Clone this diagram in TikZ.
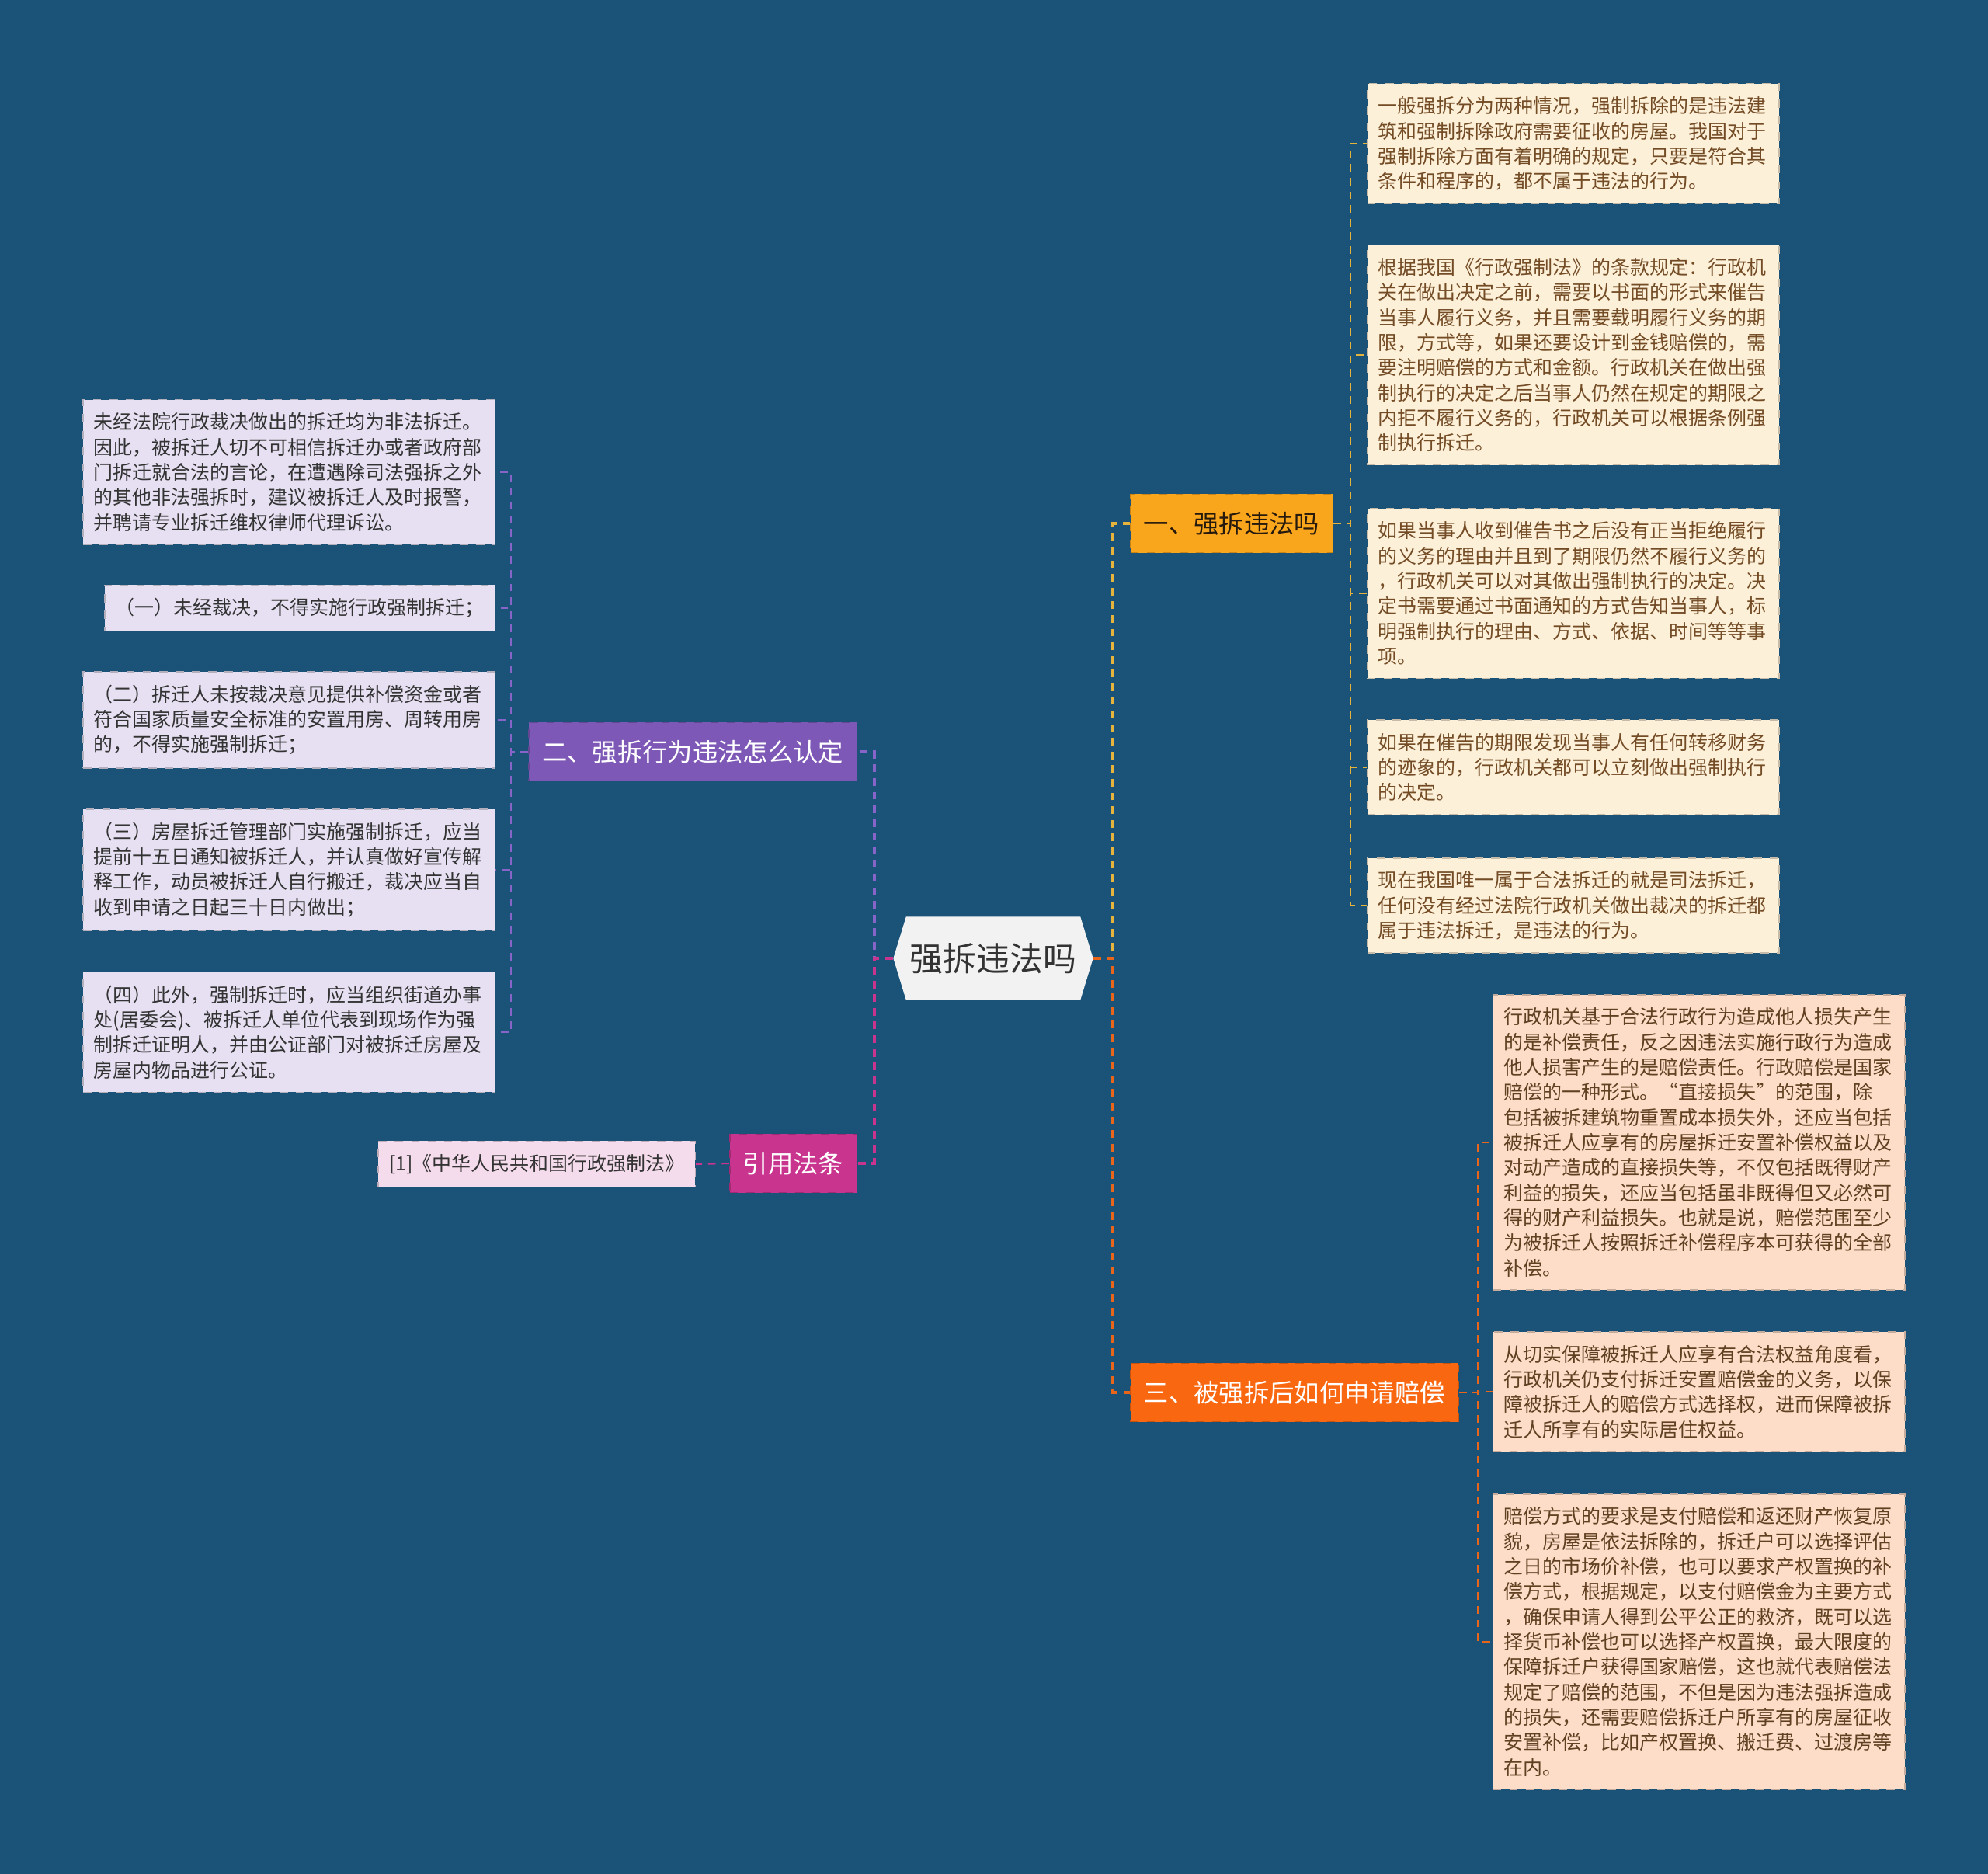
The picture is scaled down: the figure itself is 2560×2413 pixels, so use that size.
\documentclass[tikz,border=0pt]{standalone}
\usepackage{fontspec}
\setmainfont{Noto Sans CJK SC}
\usepackage{tikz}
\usetikzlibrary{positioning,shapes.symbols}
\definecolor{cBg}{RGB}{27,83,120}
\definecolor{cRoot}{RGB}{242,242,242}
\definecolor{cOne}{RGB}{250,166,28}
\definecolor{cTwo}{RGB}{126,88,182}
\definecolor{cCite}{RGB}{201,52,143}
\definecolor{cThree}{RGB}{249,103,16}
\definecolor{cLeafOne}{RGB}{253,240,216}
\definecolor{cLeafTwo}{RGB}{230,224,242}
\definecolor{cLeafCite}{RGB}{245,220,236}
\definecolor{cLeafThree}{RGB}{253,220,200}
\definecolor{cLineOne}{RGB}{230,180,60}
\definecolor{cLineTwo}{RGB}{135,100,200}
\definecolor{cLineThree}{RGB}{232,101,26}

\begin{document}
\begin{tikzpicture}[x=0.01cm,y=-0.01cm,
   root/.style={signal,signal to=east and west,signal pointer angle=146,fill=cRoot,text=black!80,
     minimum height=1.07cm,inner xsep=0.05cm,font=\fontsize{12.2pt}{14pt}\selectfont},
   topic/.style={rectangle,draw=#1!80!black,dashed,fill=#1,minimum height=0.75cm,inner xsep=0.17cm,
     font=\fontsize{9.2pt}{11pt}\selectfont},
   leaf/.style={rectangle,draw=#1!78!black,dashed,fill=#1,text width=5.02cm,align=left,
     inner xsep=0.14cm,inner ysep=0.17cm,font=\fontsize{7.1pt}{9.19pt}\selectfont},
   link/.style={draw=#1,dash pattern=on 2.8pt off 2.2pt,line width=0.6pt},
   trunk/.style={draw=#1,dash pattern=on 2.8pt off 2.2pt,line width=1.2pt}]
  \fill[cBg] (0,0) rectangle (2560,2413);
  \useasboundingbox (0,0) rectangle (2560,2413);
  % centre and main topics
  \node[root] (root) at (1279,1234) {强拆违法吗};
  \node[topic=cOne,anchor=west,text=black!80!brown] (one) at (1455,674) {一、强拆违法吗};
  \node[topic=cTwo,anchor=east,text=white] (two) at (1104,968) {二、强拆行为违法怎么认定};
  \node[topic=cCite,anchor=east,text=white] (cite) at (1104,1498) {引用法条};
  \node[topic=cThree,anchor=west,text=white] (three) at (1455,1793) {三、被强拆后如何申请赔偿};
  % leaves of one
  \node[leaf=cLeafOne,anchor=west,text=brown!60!black] (l1a) at (1760,185)
     {一般强拆分为两种情况，强制拆除的是违法建\\筑和强制拆除政府需要征收的房屋。我国对于\\强制拆除方面有着明确的规定，只要是符合其\\条件和程序的，都不属于违法的行为。};
  \node[leaf=cLeafOne,anchor=west,text=brown!60!black] (l1b) at (1760,457)
     {根据我国《行政强制法》的条款规定：行政机\\关在做出决定之前，需要以书面的形式来催告\\当事人履行义务，并且需要载明履行义务的期\\限，方式等，如果还要设计到金钱赔偿的，需\\要注明赔偿的方式和金额。行政机关在做出强\\制执行的决定之后当事人仍然在规定的期限之\\内拒不履行义务的，行政机关可以根据条例强\\制执行拆迁。};
  \node[leaf=cLeafOne,anchor=west,text=brown!60!black] (l1c) at (1760,764)
     {如果当事人收到催告书之后没有正当拒绝履行\\的义务的理由并且到了期限仍然不履行义务的\\，行政机关可以对其做出强制执行的决定。决\\定书需要通过书面通知的方式告知当事人，标\\明强制执行的理由、方式、依据、时间等等事\\项。};
  \node[leaf=cLeafOne,anchor=west,text=brown!60!black] (l1d) at (1760,988)
     {如果在催告的期限发现当事人有任何转移财务\\的迹象的，行政机关都可以立刻做出强制执行\\的决定。};
  \node[leaf=cLeafOne,anchor=west,text=brown!60!black] (l1e) at (1760,1166)
     {现在我国唯一属于合法拆迁的就是司法拆迁，\\任何没有经过法院行政机关做出裁决的拆迁都\\属于违法拆迁，是违法的行为。};
  % leaves of two
  \node[leaf=cLeafTwo,anchor=east,text=black!80] (l2a) at (638,608)
     {未经法院行政裁决做出的拆迁均为非法拆迁。\\因此，被拆迁人切不可相信拆迁办或者政府部\\门拆迁就合法的言论，在遭遇除司法强拆之外\\的其他非法强拆时，建议被拆迁人及时报警，\\并聘请专业拆迁维权律师代理诉讼。};
  \node[leaf=cLeafTwo,anchor=east,text=black!80,text width=] (l2b) at (638,783)
     {（一）未经裁决，不得实施行政强制拆迁；};
  \node[leaf=cLeafTwo,anchor=east,text=black!80] (l2c) at (638,927)
     {（二）拆迁人未按裁决意见提供补偿资金或者\\符合国家质量安全标准的安置用房、周转用房\\的，不得实施强制拆迁；};
  \node[leaf=cLeafTwo,anchor=east,text=black!80] (l2d) at (638,1120)
     {（三）房屋拆迁管理部门实施强制拆迁，应当\\提前十五日通知被拆迁人，并认真做好宣传解\\释工作，动员被拆迁人自行搬迁，裁决应当自\\收到申请之日起三十日内做出；};
  \node[leaf=cLeafTwo,anchor=east,text=black!80] (l2e) at (638,1329)
     {（四）此外，强制拆迁时，应当组织街道办事\\处(居委会)、被拆迁人单位代表到现场作为强\\制拆迁证明人，并由公证部门对被拆迁房屋及\\房屋内物品进行公证。};
  % leaf of cite
  \node[leaf=cLeafCite,anchor=east,text=black!80,text width=] (law) at (896,1499)
     {[1]《中华人民共和国行政强制法》};
  % leaves of three
  \node[leaf=cLeafThree,anchor=west,text=brown!50!black] (l3a) at (1922,1471)
     {行政机关基于合法行政行为造成他人损失产生\\的是补偿责任，反之因违法实施行政行为造成\\他人损害产生的是赔偿责任。行政赔偿是国家\\赔偿的一种形式。“直接损失”的范围，除\\包括被拆建筑物重置成本损失外，还应当包括\\被拆迁人应享有的房屋拆迁安置补偿权益以及\\对动产造成的直接损失等，不仅包括既得财产\\利益的损失，还应当包括虽非既得但又必然可\\得的财产利益损失。也就是说，赔偿范围至少\\为被拆迁人按照拆迁补偿程序本可获得的全部\\补偿。};
  \node[leaf=cLeafThree,anchor=west,text=brown!50!black] (l3b) at (1922,1792)
     {从切实保障被拆迁人应享有合法权益角度看，\\行政机关仍支付拆迁安置赔偿金的义务，以保\\障被拆迁人的赔偿方式选择权，进而保障被拆\\迁人所享有的实际居住权益。};
  \node[leaf=cLeafThree,anchor=west,text=brown!50!black] (l3c) at (1922,2114)
     {赔偿方式的要求是支付赔偿和返还财产恢复原\\貌，房屋是依法拆除的，拆迁户可以选择评估\\之日的市场价补偿，也可以要求产权置换的补\\偿方式，根据规定，以支付赔偿金为主要方式\\，确保申请人得到公平公正的救济，既可以选\\择货币补偿也可以选择产权置换，最大限度的\\保障拆迁户获得国家赔偿，这也就代表赔偿法\\规定了赔偿的范围，不但是因为违法强拆造成\\的损失，还需要赔偿拆迁户所享有的房屋征收\\安置补偿，比如产权置换、搬迁费、过渡房等\\在内。};
  % connectors
  \foreach \n in {l1a,l1b,l1c,l1d,l1e}
    \draw[link=cLineOne] (one.east) -- ++(22,0) |- (\n.west);
  \foreach \n in {l2a,l2b,l2c,l2d,l2e}
    \draw[link=cLineTwo] (two.west) -- ++(-22,0) |- (\n.east);
  \foreach \n in {l3a,l3b,l3c}
    \draw[link=cLineThree] (three.east) -- ++(24,0) |- (\n.west);
  \draw[link=cCite] (cite.west) -- (law.east);
  \draw[trunk=cLineOne] (root.east) -- ++(25,0) |- (one.west);
  \draw[trunk=cLineThree] (root.east) -- ++(25,0) |- (three.west);
  \draw[trunk=cLineTwo] (root.west) -- ++(-24,0) |- (two.east);
  \draw[trunk=cCite] (root.west) -- ++(-24,0) |- (cite.east);
\end{tikzpicture}
\end{document}
